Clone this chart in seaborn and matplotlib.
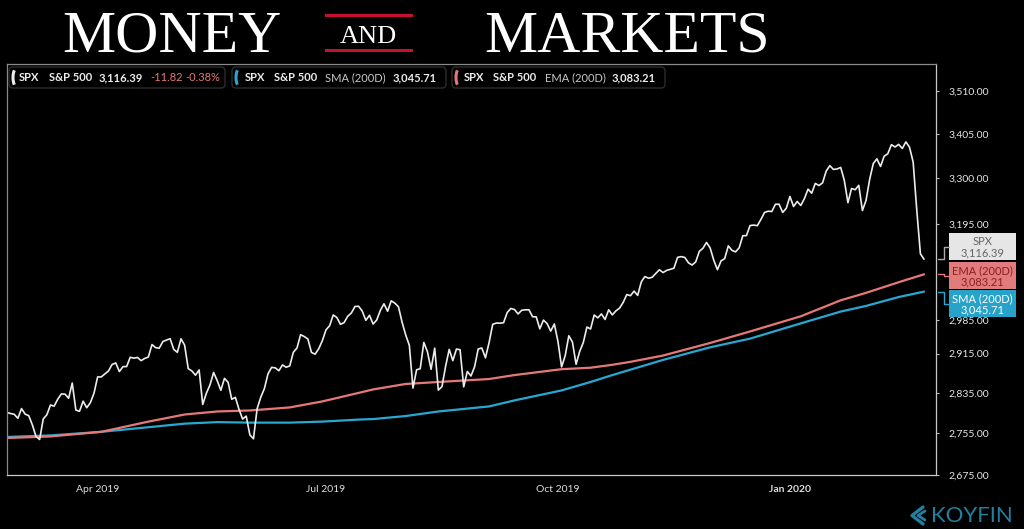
import matplotlib
matplotlib.use("Agg")
import matplotlib.pyplot as plt
import matplotlib.patches as mpatches
from matplotlib.lines import Line2D
from matplotlib.transforms import Affine2D
from matplotlib.ticker import NullLocator
import numpy as np
import pandas as pd
import seaborn as sns

W, H = 1024, 529

# S&P 500 daily closes, 25 Feb 2019 .. 26 Feb 2020
spx_close = [
    2796.11, 2793.90, 2792.38, 2784.49,
    2803.69, 2792.81, 2789.65, 2771.45, 2748.93, 2743.07, 2783.30, 2791.52, 2810.92, 2808.48,
    2822.48, 2832.94, 2832.57, 2824.23, 2854.88, 2800.71, 2798.36, 2818.46, 2805.37, 2815.44, 2834.40,
    2867.19, 2867.24, 2873.40, 2879.39, 2892.74, 2895.77, 2878.20, 2888.21, 2888.32, 2907.41,
    2905.58, 2907.06, 2900.45, 2905.03, 2907.97, 2933.68, 2927.25, 2926.17, 2939.88, 2943.03, 2945.83,
    2923.73, 2917.52, 2945.64, 2932.47, 2884.05, 2879.42, 2870.72, 2881.40, 2811.87, 2834.41, 2850.96,
    2876.32, 2859.53, 2840.23, 2864.36, 2856.27, 2822.24, 2826.06, 2802.39, 2783.02, 2788.86, 2752.06,
    2744.45, 2803.27, 2826.15, 2843.49, 2873.34, 2886.73, 2885.72, 2879.84, 2891.64, 2886.98,
    2889.67, 2917.75, 2926.46, 2954.18, 2950.46, 2945.35, 2917.38, 2913.78, 2924.92, 2941.76,
    2964.33, 2973.01, 2995.82, 2990.41, 2975.95, 2979.63, 2993.07, 2999.91, 3013.77, 3014.30, 3004.04,
    2984.42, 2995.11, 2976.61, 2985.03, 3005.47, 3019.56, 3003.67, 3025.86, 3020.97, 3013.18, 2980.38,
    2953.56, 2932.05, 2844.74, 2881.77, 2883.98, 2938.09, 2918.65, 2882.70, 2926.32, 2840.60, 2847.60,
    2888.68, 2923.65, 2900.51, 2924.43, 2922.95, 2847.11, 2878.38, 2869.16, 2887.94, 2924.58, 2926.46,
    2906.27, 2937.78, 2976.00, 2978.71, 2978.43, 2979.39, 3000.93, 3009.57, 3007.39, 2997.96,
    3005.70, 3006.73, 3006.79, 2992.07, 2991.78, 2966.60, 2984.87, 2977.62, 2961.79, 2976.74,
    2940.25, 2887.61, 2910.63, 2952.01, 2938.79, 2893.06, 2919.40, 2938.13, 2970.27, 2966.15, 2995.68,
    2989.69, 2997.95, 2986.20, 3006.72, 2995.99, 3004.52, 3010.29, 3022.55, 3039.42, 3036.89, 3046.77, 3037.56,
    3066.91, 3078.27, 3074.62, 3076.78, 3085.18, 3093.08, 3087.01, 3091.84, 3094.04, 3096.63,
    3120.46, 3122.03, 3120.18, 3108.46, 3103.54, 3110.29, 3133.64, 3140.52, 3153.63, 3140.98,
    3113.87, 3093.20, 3112.76, 3117.43, 3145.91, 3135.96, 3132.52, 3141.63, 3168.57, 3168.80, 3191.45,
    3192.52, 3191.14, 3205.37, 3221.22, 3224.01, 3223.38, 3239.91, 3240.02, 3221.29, 3230.78,
    3257.85, 3234.85, 3246.28, 3237.18, 3253.05, 3274.70, 3265.35, 3288.13, 3283.15, 3289.29, 3316.81,
    3329.62, 3320.79, 3321.75, 3325.54, 3295.47, 3243.63, 3276.24, 3273.40, 3283.66, 3225.52,
    3248.92, 3297.59, 3334.69, 3345.78, 3327.71, 3352.09, 3357.75, 3379.45, 3373.94,
    3380.16, 3370.29, 3386.15, 3373.23, 3337.75, 3225.89, 3128.21, 3116.39,
]
first_day = "2019-02-25"
last_day = "2020-02-26"
market_holidays = ["2019-04-19", "2019-05-27", "2019-07-04", "2019-09-02", "2019-11-28",
                   "2019-12-25", "2020-01-01", "2020-01-20", "2020-02-17"]

# moving averages (trading-session number, value)
ma_session = [0, 12, 26, 39, 49, 58, 67, 78, 87, 97, 101, 110, 119, 133, 140, 153, 161, 167,
              172, 181, 194, 205, 219, 230, 237, 246, 253]
sma_200 = [2748, 2751, 2758, 2767, 2774, 2777, 2776, 2776, 2778, 2782, 2783, 2789, 2798, 2808,
           2820, 2840, 2857, 2871, 2882, 2902, 2928, 2946, 2978, 3003, 3015, 3034, 3045.71]
ema_200 = [2746, 2749, 2758, 2778, 2792, 2798, 2800, 2806, 2818, 2835, 2842, 2853, 2857, 2863,
           2871, 2883, 2886, 2892, 2898, 2911, 2937, 2961, 2993, 3027, 3043, 3066, 3083.21]

# 3,090 sits behind the price tags, so it is left out
y_ticks = [2675, 2755, 2835, 2915, 2985, 3195, 3300, 3405, 3510]
x_tick_days = ["2019-04-01", "2019-07-01", "2019-10-01", "2020-01-02"]
x_tick_labels = ["Apr 2019", "Jul 2019", "Oct 2019", "Jan 2020"]

WHITE = "#ececec"
RED = "#e67878"
BLUE = "#27a8d2"

days = pd.bdate_range(first_day, last_day, freq="C", holidays=market_holidays)
spx = pd.DataFrame({"session": np.arange(len(spx_close)), "date": days[:len(spx_close)],
                    "close": spx_close})
ma = pd.DataFrame({"session": ma_session, "sma": sma_200, "ema": ema_200})
tick_pos = [spx.index[spx["date"] == pd.Timestamp(d)][0] for d in x_tick_days]

sns.set_theme(style="dark", rc={"axes.facecolor": "black", "figure.facecolor": "black"})
plt.rcParams["font.family"] = ["Lato", "DejaVu Sans"]

fig = plt.figure(figsize=(W / 100, H / 100), dpi=100, facecolor="black")
# pixel coords measured from the top-left corner
pix = Affine2D().scale(1 / W, -1 / H).translate(0, 1) + fig.transFigure

ax = fig.add_axes([7 / W, 1 - 475 / H, (936 - 7) / W, (475 - 64) / H])
ax.set_facecolor("black")

sns.lineplot(data=ma, x="session", y="sma", ax=ax, color=BLUE, lw=1.6)
sns.lineplot(data=ma, x="session", y="ema", ax=ax, color=RED, lw=1.6)
sns.lineplot(data=spx, x="session", y="close", ax=ax, color=WHITE, lw=1.2)

ax.set_yscale("log")
ax.set_ylim(2675, 3578)
ax.set_xlim(0, 256.3)
ax.yaxis.set_minor_locator(NullLocator())
ax.set_yticks(y_ticks)
ax.set_yticklabels([f"{v:,.2f}" for v in y_ticks])
ax.yaxis.tick_right()
ax.set_xticks(tick_pos)
ax.set_xticklabels(x_tick_labels)
ax.get_xticklabels()[-1].set_fontweight("bold")
ax.set_xlabel("")
ax.set_ylabel("")
ax.grid(False)
ax.tick_params(axis="y", which="major", direction="out", length=2, width=0.8, color="#bbbbbb",
               pad=7, labelsize=7.5, labelcolor="#e6e6e6")
ax.tick_params(axis="x", direction="out", length=4, width=0.8, color="#bbbbbb",
               pad=3, labelsize=7.5, labelcolor="#dddddd")
for side in ["left", "top"]:
    ax.spines[side].set_color("#8a8a8a")
    ax.spines[side].set_linewidth(0.9)
for side in ["right", "bottom"]:
    ax.spines[side].set_color("#c8c8c8")
    ax.spines[side].set_linewidth(0.9)

# header
serif = ["Liberation Serif", "DejaVu Serif"]
fig.text(172, 52, "MONEY", transform=pix, ha="center", va="baseline", color="white",
         fontsize=43, family=serif)
fig.text(627, 52, "MARKETS", transform=pix, ha="center", va="baseline", color="white",
         fontsize=43, family=serif)
fig.text(368.5, 43, "AND", transform=pix, ha="center", va="baseline", color="white",
         fontsize=19, family=serif)
for yb in [13.5, 48.5]:
    fig.add_artist(mpatches.Rectangle((325, yb), 88, 3.2, transform=pix, color="#c8102e", lw=0))

# legend boxes
last = spx_close[-1]
chg = last - spx_close[-2]
pct = chg / spx_close[-2] * 100
legend_boxes = [
    (9, 225, WHITE, [("SPX", 19, WHITE, "bold"), ("S&P 500", 49, WHITE, "bold"),
                     (f"{last:,.2f}", 99, WHITE, "bold"), (f"{chg:,.2f}", 150, RED, "normal"),
                     (f"{pct:.2f}%", 185, RED, "normal")]),
    (232, 446, BLUE, [("SPX", 245, WHITE, "bold"), ("S&P 500", 274, WHITE, "bold"),
                      ("SMA (200D)", 325, "#c8c8c8", "normal"), (f"{sma_200[-1]:,.2f}", 393, WHITE, "bold")]),
    (452, 665, RED, [("SPX", 464, WHITE, "bold"), ("S&P 500", 493, WHITE, "bold"),
                     ("EMA (200D)", 545, "#c8c8c8", "normal"), (f"{ema_200[-1]:,.2f}", 612, WHITE, "bold")]),
]
for x0, x1, col, pieces in legend_boxes:
    fig.add_artist(mpatches.FancyBboxPatch((x0, 67), x1 - x0, 21, transform=pix,
                                           boxstyle="round,pad=0,rounding_size=4",
                                           fc="black", ec="#2c2c2c", lw=1))
    fig.add_artist(mpatches.Arc((x0 + 8, 77.5), 8, 19, theta1=110, theta2=250, transform=pix,
                                color=col, lw=2.2))
    for txt, xt, tc, fw in pieces:
        fig.text(xt, 77.5, txt, transform=pix, ha="left", va="center", color=tc,
                 fontsize=8, fontweight=fw)

# price tags on the right
def data_to_pix(val):
    return pix.inverted().transform(ax.transData.transform((0, val)))[1]

tags = [
    ("SPX", last, 233, "#e6e6e6", "#666666", "#aaaaaa"),
    ("EMA (200D)", ema_200[-1], 262, "#e27b7b", "#8e1f1f", RED),
    ("SMA (200D)", sma_200[-1], 290, "#27a2c8", "white", BLUE),
]
for name, val, ty, fc, tc, lc in tags:
    y0 = data_to_pix(val)
    yc = ty + 13.5
    fig.add_artist(Line2D([938, 944, 944, 949], [y0, y0, yc, yc], transform=pix, color=lc, lw=1))
    fig.add_artist(mpatches.Rectangle((949, ty), 67, 27, transform=pix, fc=fc, ec="none"))
    fig.text(982.5, ty + 8.5, name, transform=pix, ha="center", va="center", color=tc, fontsize=8)
    fig.text(982.5, ty + 19.5, f"{val:,.2f}", transform=pix, ha="center", va="center", color=tc,
             fontsize=8)

# koyfin mark
TEAL = "#237f9f"
fig.add_artist(Line2D([923, 912, 923], [507, 515.5, 524], transform=pix, color=TEAL, lw=2.4))
fig.add_artist(Line2D([925, 918, 925], [511, 515.5, 520], transform=pix, color=TEAL, lw=2.0))
fig.text(972, 516, "KOYFIN", transform=pix, ha="center", va="center", color=TEAL,
         fontsize=16)

fig.savefig("out.png", dpi=100, facecolor="black")
